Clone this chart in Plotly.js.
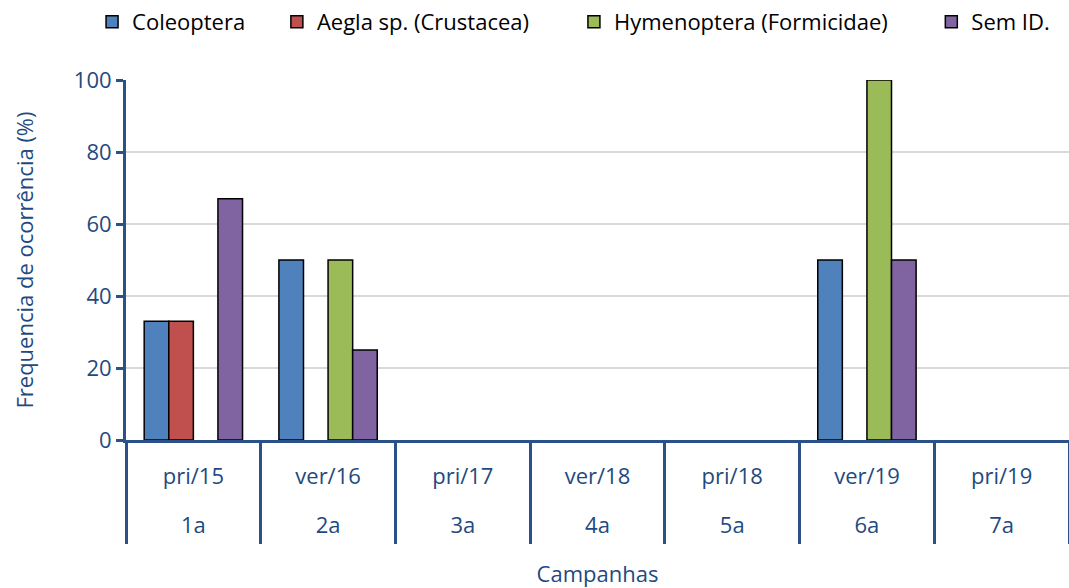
<!DOCTYPE html>
<html>
<head>
<meta charset="utf-8">
<script src="https://cdn.plot.ly/plotly-3.0.1.min.js"></script>
<style>html,body{margin:0;padding:0;background:#fff;}#chart{width:1069px;height:588px;}</style>
</head>
<body>
<div id="chart"></div>
<script>
var seasons = ["pri/15", "ver/16", "pri/17", "ver/18", "pri/18", "ver/19", "pri/19"];
var campaigns = ["1a", "2a", "3a", "4a", "5a", "6a", "7a"];
var seriesNames = ["Coleoptera", "Aegla sp. (Crustacea)", "Hymenoptera (Formicidae)", "Sem ID."];
var coleoptera = [33, 50, null, null, null, 50, null];
var aegla = [33, null, null, null, null, null, null];
var hymenoptera = [null, 50, null, null, null, 100, null];
var semId = [67, 25, null, null, null, 50, null];
var seriesColors = ["#4F81BD", "#C0504D", "#9BBB59", "#8064A2"];

var FONT = "Open Sans, Noto Sans, sans-serif";
var TXT = "#1F4A7F";
var AX = "#2A5288";

var values = [coleoptera, aegla, hymenoptera, semId];
var legendIds = ["legend", "legend2", "legend3", "legend4"];
var traces = values.map(function (v, i) {
  return {
    type: "bar",
    name: seriesNames[i],
    x: seasons,
    y: v,
    marker: {color: seriesColors[i], line: {color: "#000", width: 1.5}},
    legend: legendIds[i],
    hoverinfo: "x+y+name"
  };
});
traces.push({
  type: "scatter", mode: "none", x: campaigns, y: campaigns.map(function(){return 0;}),
  xaxis: "x2", yaxis: "y", showlegend: false, hoverinfo: "skip"
});

function leg(x) {
  return {orientation: "h", x: x, xanchor: "left", y: 1.161, yanchor: "middle",
    font: {family: FONT, size: 22, color: "#000"}, bgcolor: "rgba(0,0,0,0)"};
}

var layout = {
  width: 1069, height: 588,
  margin: {l: 126, r: 0, t: 80, b: 148},
  paper_bgcolor: "#fff", plot_bgcolor: "#fff",
  barmode: "group", bargap: 0.27, bargroupgap: 0,
  font: {family: FONT, size: 22, color: TXT},
  xaxis: {
    type: "category", range: [-0.5, 6.5], fixedrange: true,
    showline: true, linecolor: AX, linewidth: 3,
    ticks: "", showgrid: false, zeroline: false,
    tickfont: {family: FONT, size: 22, color: TXT},
    ticklabelstandoff: 15
  },
  xaxis2: {
    type: "category", overlaying: "x", anchor: "y", side: "bottom",
    range: [-0.5, 6.5], fixedrange: true,
    showline: false, showgrid: false, zeroline: false,
    ticks: "outside", tickson: "boundaries", ticklen: 103, tickwidth: 3, tickcolor: AX,
    tickfont: {family: FONT, size: 22, color: TXT},
    ticklabelstandoff: 70,
    title: {text: "Campanhas", font: {family: FONT, size: 22, color: TXT}, standoff: 137}
  },
  yaxis: {
    range: [0, 100], fixedrange: true, tickvals: [0, 20, 40, 60, 80, 100],
    showline: true, linecolor: AX, linewidth: 3,
    ticks: "outside", ticklen: 7, tickwidth: 3, tickcolor: AX,
    showgrid: true, gridcolor: "#D9D9D9", gridwidth: 2, zeroline: false,
    tickfont: {family: FONT, size: 22, color: TXT},
    title: {text: "Frequencia de ocorrência (%)", font: {family: FONT, size: 22, color: TXT}, standoff: 35}
  },
  legend: leg(-0.036),
  legend2: leg(0.160),
  legend3: leg(0.475),
  legend4: leg(0.854)
};

Plotly.newPlot("chart", traces, layout, {displayModeBar: false, responsive: false});
</script>
</body>
</html>
